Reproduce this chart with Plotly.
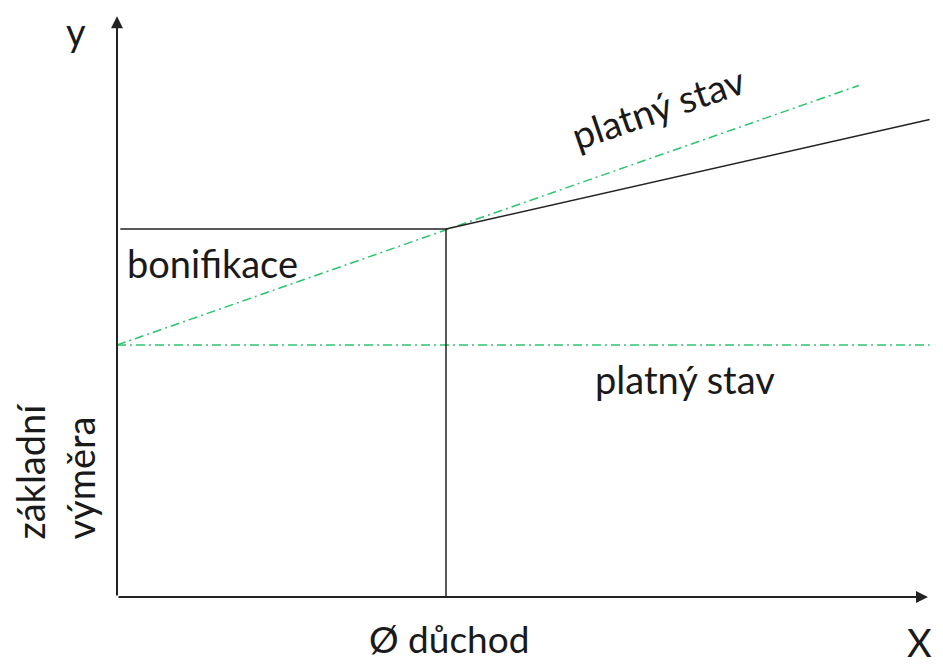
import plotly.graph_objects as go

# scale: x in units where average pension (Ø důchod) = 10, y where base = 10
x_duchod = 10.0
x_black_end = 24.7
x_axis_end = 24.65
x_green_end = 22.55

y_base = 10.0
y_bonus = 14.6
y_black_end = 18.95
y_green_end = 20.3
y_top = 23.05

green = '#2cc46e'
dash = '9px,4px,2px,4px'
black = '#222222'

fig = go.Figure()

# base amount - horizontal dash-dot
fig.add_trace(go.Scatter(x=[0, x_black_end], y=[y_base, y_base], mode='lines',
                         line=dict(color=green, width=1.5, dash=dash)))
# current state - sloped dash-dot
fig.add_trace(go.Scatter(x=[0, x_green_end], y=[y_base, y_green_end], mode='lines',
                         line=dict(color=green, width=1.5, dash=dash)))
# bonus level and pension marker
fig.add_trace(go.Scatter(x=[0.1, x_duchod, x_duchod], y=[y_bonus, y_bonus, 0], mode='lines',
                         line=dict(color=black, width=1.5)))
# proposed line
fig.add_trace(go.Scatter(x=[x_duchod, x_black_end], y=[y_bonus, y_black_end], mode='lines',
                         line=dict(color=black, width=1.5)))

# axes with arrows
fig.add_annotation(x=0, y=y_top, ax=0, ay=0, xref='x', yref='y', axref='x', ayref='y',
                   showarrow=True, arrowhead=2, arrowsize=1.2, arrowwidth=2, arrowcolor=black, text='')
fig.add_annotation(x=x_axis_end, y=0, ax=0, ay=0, xref='x', yref='y', axref='x', ayref='y',
                   showarrow=True, arrowhead=2, arrowsize=1.2, arrowwidth=2, arrowcolor=black, text='')

font = dict(family='Lato', size=38, color='#1a1a1a')
fig.add_annotation(x=-1.25, y=22.45, text='y', showarrow=False, font=font)
fig.add_annotation(x=24.4, y=-1.8, text='X', showarrow=False, font=font)
fig.add_annotation(x=x_duchod + 0.1, y=-1.65, text='Ø důchod', showarrow=False,
                   font=dict(family='Lato', size=37, color='#1a1a1a'))
fig.add_annotation(x=2.9, y=13.25, text='bonifikace', showarrow=False, font=font)
fig.add_annotation(x=17.25, y=8.65, text='platný stav', showarrow=False, font=font)
fig.add_annotation(x=16.45, y=19.45, text='platný stav', showarrow=False, font=font, textangle=-19)
fig.add_annotation(x=-1.9, y=5.0, text='základní<br>výměra', showarrow=False, font=font,
                   textangle=-90, align='left')

# page body adds ~8px/7px offset, so ranges cover the whole figure
fig.update_layout(
    width=943, height=664,
    margin=dict(l=0, r=0, t=0, b=0),
    plot_bgcolor='white', paper_bgcolor='white',
    showlegend=False,
    xaxis=dict(range=[-3.313, 25.35], visible=False),
    yaxis=dict(range=[-2.976, 23.373], visible=False),
)

fig.write_html("out.html")
